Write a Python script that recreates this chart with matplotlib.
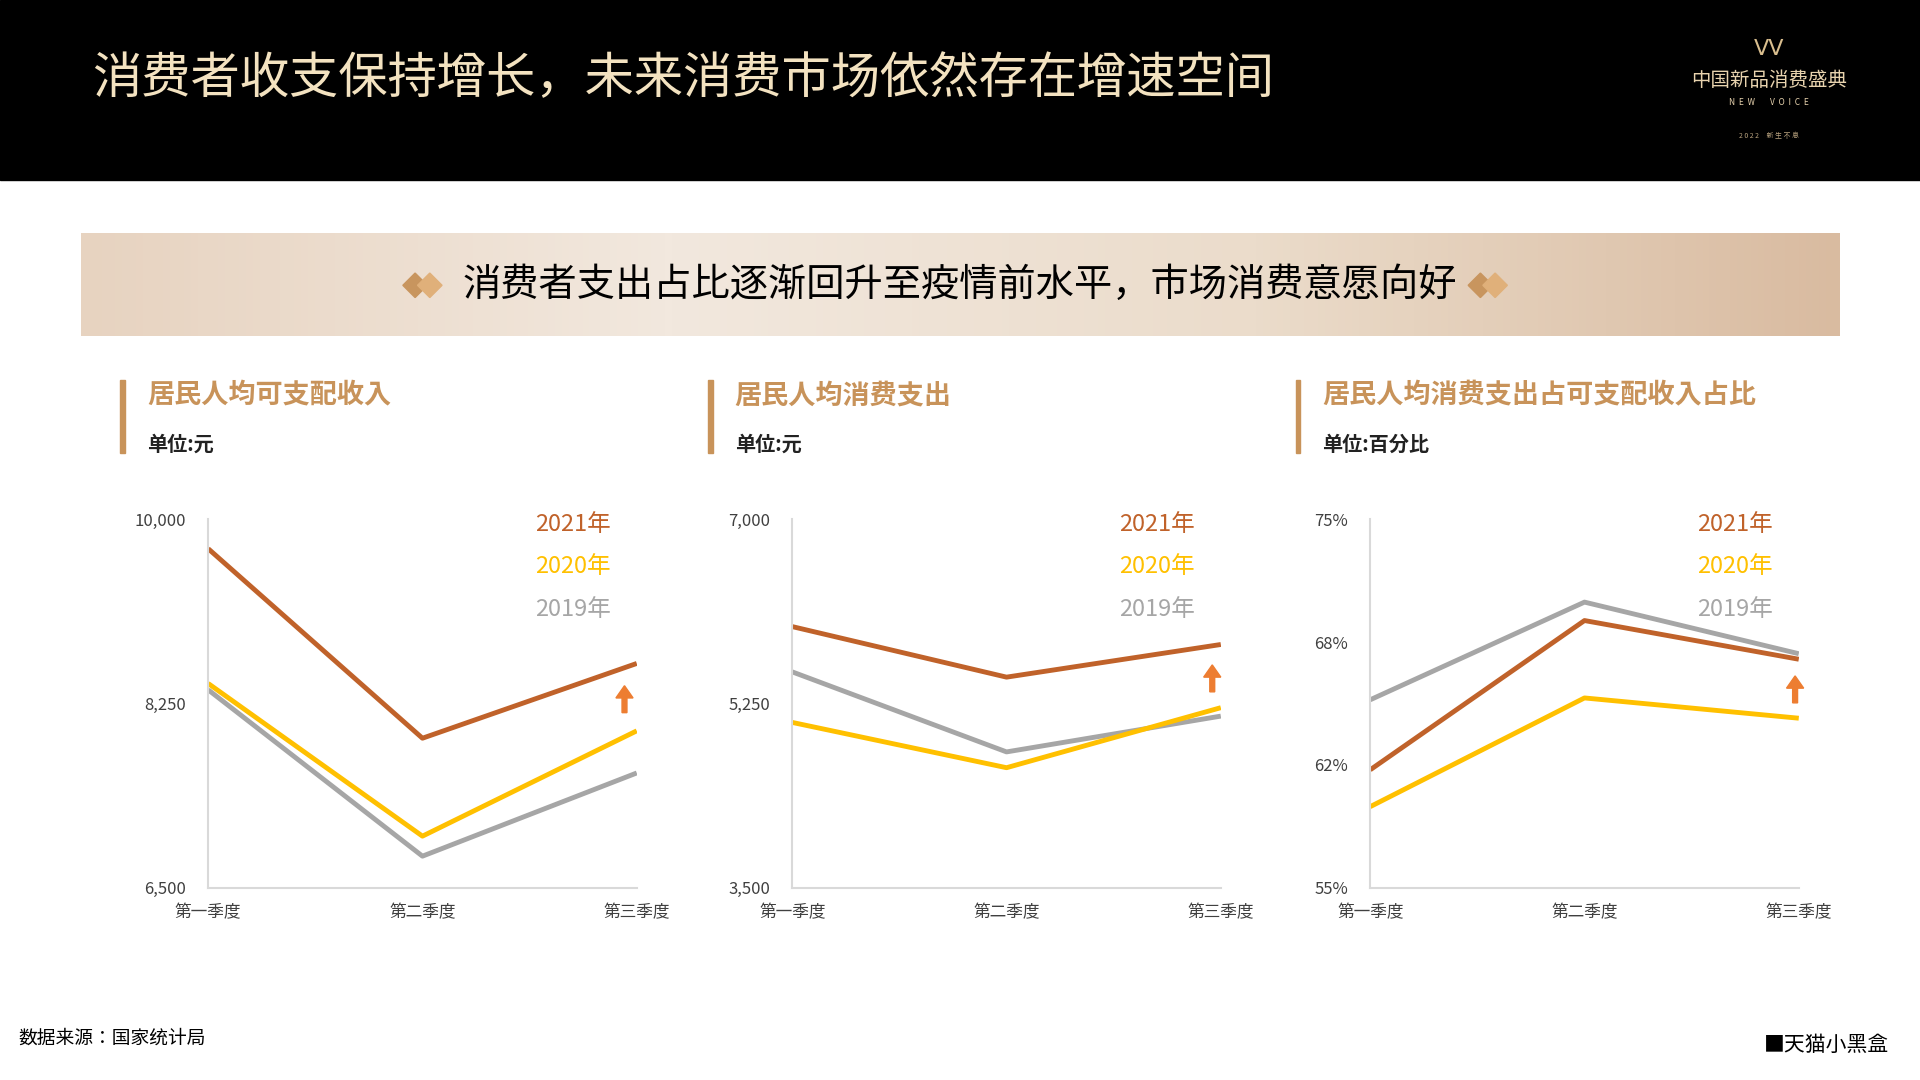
import numpy as np
import matplotlib
matplotlib.use("Agg")
import matplotlib.pyplot as plt
from matplotlib import font_manager
from matplotlib.patches import Rectangle, Polygon, FancyArrow
from matplotlib.ticker import FuncFormatter
from matplotlib.colors import LinearSegmentedColormap

# police CJK : on cherche ce qui est réellement installé
cjk = [f.name for f in font_manager.fontManager.ttflist if "CJK" in f.name]
pref = [n for n in ("Noto Sans CJK SC", "Noto Sans CJK JP", "Noto Sans CJK TC", "Noto Sans CJK KR") if n in cjk]
plt.rcParams["font.family"] = "sans-serif"
plt.rcParams["font.sans-serif"] = (pref or cjk[:1]) + ["DejaVu Sans"]

# --- données ---
quarters = ["第一季度", "第二季度", "第三季度"]
years = ["2021年", "2020年", "2019年"]
colors = ["#C0622A", "#FFC000", "#A6A6A6"]

income_2021 = [9720, 7920, 8630]
income_2020 = [8440, 6990, 7990]
income_2019 = [8380, 6800, 7590]

spend_2021 = [5980, 5500, 5810]
spend_2020 = [5070, 4640, 5210]
spend_2019 = [5550, 4790, 5130]

ratio_2021 = [61.4, 69.5, 67.4]
ratio_2020 = [59.4, 65.3, 64.2]
ratio_2019 = [65.2, 70.5, 67.7]

W, H = 1568, 882
def fx(x): return x / W
def fy(y): return 1 - y / H

fig = plt.figure(figsize=(19.2, 10.8), dpi=100)
fig.patch.set_facecolor("white")

# --- bandeau noir ---
fig.patches.append(Rectangle((0, fy(147)), 1, 147 / H, transform=fig.transFigure, color="black"))
fig.text(fx(75), fy(65), "消费者收支保持增长，未来消费市场依然存在增速空间", fontsize=35.5,
         color="#F3E2C0", va="center")
fig.text(fx(1445), fy(66), "中国新品消费盛典", fontsize=14, color="#E8D3AE", ha="center", va="center")
fig.text(fx(1445), fy(84), "N  E  W        V  O  I  C  E", fontsize=6, color="#E8D3AE", ha="center", va="center")
fig.text(fx(1445), fy(111), "2 0 2 2     新 生 不 息", fontsize=5, color="#B8A27E", ha="center", va="center")
fig.text(fx(1445), fy(40), "ᐯᐯ", fontsize=16, color="#D9BE8E", ha="center", va="center", fontfamily="DejaVu Sans")

# --- bannière beige ---
grad = np.linspace(0, 1, 256).reshape(1, -1)
bax = fig.add_axes([fx(66), fy(274), fx(1502) - fx(66), (274 - 190) / H])
cmap = LinearSegmentedColormap.from_list("b", ["#E7D3C0", "#F2E8DE", "#EBDCCB", "#D9BBA0"])
bax.imshow(grad, aspect="auto", cmap=cmap, extent=[0, 1, 0, 1])
bax.set_axis_off()
fig.text(fx(784), fy(233), "消费者支出占比逐渐回升至疫情前水平，市场消费意愿向好", fontsize=27.5,
         color="black", ha="center", va="center")
for cx in (345, 1215):
    for dx, c in ((-6, "#C8955E"), (6, "#E0B07A")):
        x0 = cx + dx
        fig.patches.append(Polygon([[fx(x0 - 10), fy(233)], [fx(x0), fy(223)], [fx(x0 + 10), fy(233)], [fx(x0), fy(243)]],
                                   closed=True, transform=fig.transFigure, color=c))

# --- graphiques ---
panels = [
    ("居民人均可支配收入", "单位:元", 100, 170, [income_2021, income_2020, income_2019],
     (6500, 10000), [6500, 8250, 10000], lambda v, p: f"{v:,.0f}", 510, 570),
    ("居民人均消费支出", "单位:元", 580, 647, [spend_2021, spend_2020, spend_2019],
     (3500, 7000), [3500, 5250, 7000], lambda v, p: f"{v:,.0f}", 990, 553),
    ("居民人均消费支出占可支配收入占比", "单位:百分比", 1060, 1119, [ratio_2021, ratio_2020, ratio_2019],
     (55, 75), [55 + 20 / 3 * i for i in range(4)], lambda v, p: f"{v:.0f}%", 1466, 562),
]

for title, unit, bx, ax0, series, ylim, ticks, fmt, arx, ary in panels:
    fig.patches.append(Rectangle((fx(bx - 2), fy(370)), 4 / W, 60 / H, transform=fig.transFigure, color="#C8935A"))
    fig.text(fx(bx + 20), fy(323), title, fontsize=19.5, color="#C8935A", va="center", fontweight="bold")
    fig.text(fx(bx + 20), fy(363), unit, fontsize=14.5, color="#222222", va="center", fontweight="bold")

    ax = fig.add_axes([fx(ax0), fy(725), 350 / W, (725 - 424) / H])
    x = np.arange(3)
    for s, c in zip(series[::-1], colors[::-1]):
        ax.plot(x, s, color=c, lw=3.5, solid_capstyle="butt")
    ax.set_xlim(0, 2)
    ax.set_ylim(*ylim)
    ax.set_yticks(ticks)
    ax.yaxis.set_major_formatter(FuncFormatter(fmt))
    ax.set_xticks(x)
    ax.set_xticklabels(quarters)
    ax.tick_params(length=0, labelsize=12, labelcolor="#404040")
    ax.tick_params(axis="y", pad=16)
    ax.tick_params(axis="x", pad=12)
    for sp in ("top", "right"):
        ax.spines[sp].set_visible(False)
    for sp in ("left", "bottom"):
        ax.spines[sp].set_color("#D9D9D9")
        ax.spines[sp].set_linewidth(1.5)
    ax.patch.set_visible(False)
    for i, (yr, c) in enumerate(zip(years, colors)):
        fig.text(fx(ax0 + 298), fy(428 + 35 * i), yr, fontsize=17, color=c, ha="center", va="center")
    fig.patches.append(FancyArrow(fx(arx), fy(ary + 12), 0, 22 / H, width=4 / W, head_width=14 / W,
                                  head_length=10 / H, transform=fig.transFigure, color="#ED7D31",
                                  length_includes_head=True))

fig.text(fx(15), fy(848), "数据来源：国家统计局", fontsize=13.5, color="black", va="center")
fig.text(fx(1543), fy(853), "■天猫小黑盒", fontsize=15, color="black", ha="right", va="center")

fig.savefig("out.png", dpi=100)
